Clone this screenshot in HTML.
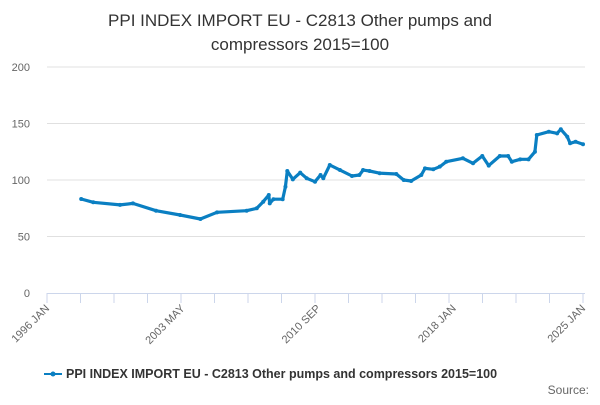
<!DOCTYPE html>
<html><head><meta charset="utf-8"><style>
body{margin:0;background:#fff;font-family:"Liberation Sans","DejaVu Sans",sans-serif}
</style></head><body>
<svg id="chart" width="600" height="400" xmlns="http://www.w3.org/2000/svg">
<text x="300" y="26" text-anchor="middle" font-size="17" fill="#333">PPI INDEX IMPORT EU - C2813 Other pumps and</text>
<text x="300" y="50" text-anchor="middle" font-size="17" fill="#333">compressors 2015=100</text>
<g id="grid"></g><g id="xaxis"></g><g id="series"></g>
<g>
<line x1="44" y1="374" x2="62" y2="374" stroke="#0a7fc2" stroke-width="2"/>
<circle cx="53" cy="374" r="2.5" fill="#0a7fc2"/>
<text x="66" y="378" font-size="12.5" font-weight="bold" fill="#333">PPI INDEX IMPORT EU - C2813 Other pumps and compressors 2015=100</text>
</g>
<text x="589" y="394" text-anchor="end" font-size="12" fill="#666">Source:</text>
</svg>
<script>
const years=[1997.85,1998.5,1999.95,2000.65,2001.9,2003.2,2004.3,2005.2,2006.8,2007.35,2007.7,2008.0,2008.05,2008.25,2008.75,2008.9,2009.0,2009.3,2009.7,2010.05,2010.5,2010.8,2010.95,2011.3,2011.85,2012.5,2012.9,2013.1,2013.45,2014.0,2014.9,2015.3,2015.7,2016.25,2016.45,2016.9,2017.25,2017.6,2018.5,2019.05,2019.55,2019.9,2020.5,2020.95,2021.15,2021.6,2022.05,2022.4,2022.5,2023.15,2023.6,2023.8,2024.15,2024.3,2024.6,2025.0];
const values=[83.2,80.3,78,79.3,72.8,69,65.5,71.4,72.8,75,80.8,86.7,79.3,83,83,94,108,100.6,106.5,101.5,98.5,104.4,101.5,113.3,108.8,103.5,104.4,108.8,108,106,105.3,100,99.1,104.4,110.3,109.5,111.8,116.2,119.2,114.8,121.2,112.7,121.2,121.2,116.2,118.3,118.3,125,139.8,142.7,141.3,144.9,138.3,132.5,133.9,131.6];
const yTicks=[0,50,100,150,200];
const xTickLabels=["1996 JAN","2003 MAY","2010 SEP","2018 JAN","2025 JAN"];
const xTickYears=[1996,2003.33,2010.67,2018,2025];
const NS="http://www.w3.org/2000/svg";
const X=y=>47+(y-1996)*(536/29);
const Y=v=>293-v*1.13;
function mk(t,a,p){const e=document.createElementNS(NS,t);for(const k in a)e.setAttribute(k,a[k]);p.appendChild(e);return e;}
const grid=document.getElementById('grid'),xa=document.getElementById('xaxis'),se=document.getElementById('series');
yTicks.forEach(v=>{
  if(v>0){const l=mk('line',{x1:47,x2:585,y1:Y(v),y2:Y(v),stroke:'#e0e0e0','stroke-width':1},grid);
  
  }
  const t=mk('text',{x:30,y:Y(v)+4,'text-anchor':'end','font-size':11,fill:'#666'},grid);t.textContent=v;
  
  
});
const ax=mk('line',{x1:47,x2:585,y1:293.5,y2:293.5,stroke:'#ccd6eb','stroke-width':1},xa);


for(let i=0;i<=16;i++){const x=47+i*536/16;
  const tk=mk('line',{x1:x,x2:x,y1:293,y2:303,stroke:'#ccd6eb'},xa);
  
  }
xTickLabels.forEach((s,i)=>{const x=X(xTickYears[i]);
  const t=mk('text',{x:x+3,y:309,'text-anchor':'end','font-size':11,fill:'#666',transform:`rotate(-45 ${x+3} 309)`},xa);t.textContent=s;
  
  });
const pts=years.map((y,i)=>X(y).toFixed(1)+','+Y(values[i]).toFixed(1)).join(' ');
const pl=mk('polyline',{points:pts,fill:'none',stroke:'#0a7fc2','stroke-width':3.2,'stroke-linejoin':'round'},se);


years.forEach((y,i)=>{const c=mk('circle',{cx:X(y),cy:Y(values[i]),r:2,fill:'#0a7fc2'},se);
  
  });
</script>
</body></html>
